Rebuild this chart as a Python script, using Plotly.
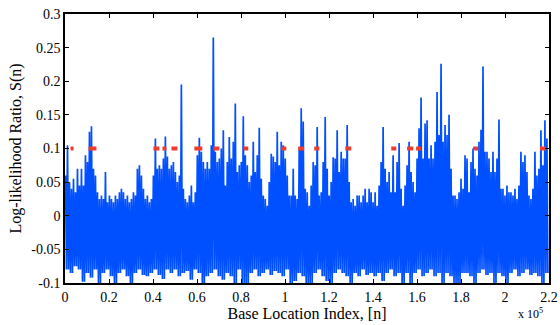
import plotly.graph_objects as go

# Upper envelope of S(n), one value per ~908 bases
upper = [
    0.06, 0.105, 0.05, 0.04, 0.055, 0.035, 0.07, 0.045, 0.07, 0.045,
    0.09, 0.08, 0.125, 0.133, 0.07, 0.06, 0.035, 0.025, 0.03, 0.025,
    0.065, 0.02, 0.03, 0.025, 0.02, 0.03, 0.025, 0.035, 0.04, 0.035,
    0.025, 0.03, 0.02, 0.025, 0.035, 0.03, 0.07, 0.075, 0.06, 0.04,
    0.025, 0.03, 0.02, 0.025, 0.06, 0.115, 0.07, 0.075, 0.07, 0.085,
    0.118, 0.088, 0.07, 0.075, 0.08, 0.065, 0.05, 0.06, 0.195, 0.04,
    0.025, 0.02, 0.03, 0.045, 0.02, 0.035, 0.09, 0.116, 0.095, 0.08,
    0.07, 0.08, 0.07, 0.105, 0.265, 0.095, 0.08, 0.085, 0.1, 0.127,
    0.045, 0.08, 0.117, 0.085, 0.11, 0.167, 0.065, 0.075, 0.08, 0.148,
    0.09, 0.075, 0.05, 0.06, 0.11, 0.065, 0.09, 0.131, 0.055, 0.03,
    0.025, 0.015, 0.05, 0.092, 0.088, 0.08, 0.125, 0.075, 0.11, 0.105,
    0.085, 0.06, 0.03, 0.03, 0.07, 0.03, 0.025, 0.1, 0.16, 0.14,
    0.04, 0.035, 0.015, 0.045, 0.08, 0.075, 0.132, 0.03, 0.035, 0.08,
    0.147, 0.07, 0.03, 0.05, 0.087, 0.085, 0.127, 0.065, 0.095, 0.085,
    0.085, 0.135, 0.05, 0.02, 0.025, 0.015, 0.03, 0.03, 0.02, 0.03,
    0.04, 0.02, 0.04, 0.035, 0.02, 0.035, 0.015, 0.045, 0.08, 0.132,
    0.07, 0.05, 0.065, 0.035, 0.09, 0.035, 0.08, 0.108, 0.04, 0.015,
    0.045, 0.075, 0.11, 0.065, 0.05, 0.035, 0.085, 0.13, 0.176, 0.085,
    0.137, 0.142, 0.085, 0.105, 0.085, 0.11, 0.184, 0.12, 0.226, 0.11,
    0.135, 0.12, 0.15, 0.07, 0.03, 0.03, 0.025, 0.035, 0.055, 0.04,
    0.09, 0.085, 0.035, 0.08, 0.1, 0.07, 0.06, 0.11, 0.128, 0.222,
    0.095, 0.095, 0.085, 0.065, 0.095, 0.065, 0.085, 0.143, 0.04, 0.04,
    0.03, 0.045, 0.035, 0.035, 0.03, 0.04, 0.025, 0.045, 0.095, 0.08,
    0.09, 0.065, 0.03, 0.025, 0.04, 0.095, 0.06, 0.07, 0.127, 0.075,
    0.142, 0.115,
]

# Lower envelope of S(n), one value per ~1816 bases
lower = [
    -0.08, -0.085, -0.075, -0.08, -0.098, -0.085, -0.092, -0.08, -0.1, -0.085,
    -0.08, -0.09, -0.1, -0.085, -0.08, -0.09, -0.1, -0.085, -0.08, -0.088,
    -0.09, -0.085, -0.08, -0.088, -0.094, -0.08, -0.085, -0.08, -0.09, -0.085,
    -0.082, -0.095, -0.08, -0.085, -0.105, -0.09, -0.085, -0.08, -0.09, -0.095,
    -0.085, -0.09, -0.1, -0.08, -0.1, -0.1, -0.085, -0.08, -0.09, -0.085,
    -0.08, -0.088, -0.082, -0.085, -0.09, -0.08, -0.1, -0.097, -0.085, -0.09,
    -0.1, -0.1, -0.085, -0.08, -0.09, -0.097, -0.1, -0.085, -0.08, -0.085,
    -0.09, -0.1, -0.085, -0.09, -0.08, -0.088, -0.085, -0.09, -0.085, -0.097,
    -0.085, -0.08, -0.09, -0.085, -0.1, -0.085, -0.1, -0.085, -0.08, -0.09,
    -0.085, -0.08, -0.09, -0.085, -0.1, -0.085, -0.09, -0.1, -0.1, -0.085,
    -0.085, -0.09, -0.1, -0.085, -0.08, -0.088, -0.085, -0.1, -0.085, -0.09,
    -0.1, -0.085, -0.08, -0.09, -0.085, -0.08, -0.088, -0.085, -0.09, -0.1,
    -0.085,
]

sample_start = 227
sample_step = 908

# Detected regions (threshold 0.1)
region_start = [2500, 10700, 40200, 44300, 48400, 58800, 67400, 81100, 98300,
                106000, 113300, 127400, 148300, 155500, 159600, 185500, 215900]
region_end = [3900, 14300, 42900, 46100, 51100, 62400, 70200, 83300, 100600,
              108700, 115600, 130100, 150600, 158300, 161900, 187800, 218600]
threshold = 0.1

x_ticks = [0, 20000, 40000, 60000, 80000, 100000, 120000, 140000, 160000,
           180000, 200000, 220000]
x_labels = ["0", "0.2", "0.4", "0.6", "0.8", "1", "1.2", "1.4", "1.6", "1.8", "2", "2.2"]
y_ticks = [-0.1, -0.05, 0, 0.05, 0.1, 0.15, 0.2, 0.25, 0.3]
y_labels = ["-0.1", "-0.05", "0", "0.05", "0.1", "0.15", "0.2", "0.25", "0.3"]

xs, ys = [], []
for i, h in enumerate(upper):
    xs.append(sample_start + i * sample_step)
    ys.append(h)
    xs.append(sample_start + i * sample_step + sample_step / 2)
    ys.append(lower[i // 2])

mx, my = [], []
for s, e in zip(region_start, region_end):
    mx += [s, e, None]
    my += [threshold, threshold, None]

fig = go.Figure()
fig.add_trace(go.Scatter(x=xs, y=ys, mode="lines",
                         line=dict(color="#0050ff", width=1.7), hoverinfo="skip"))
fig.add_trace(go.Scatter(x=mx, y=my, mode="lines",
                         line=dict(color="#f03a2a", width=4), hoverinfo="skip"))

font = dict(family="Liberation Serif, Times New Roman, serif", color="black")
axis_common = dict(showgrid=False, zeroline=False, showline=True, linecolor="black",
                   linewidth=1.5, mirror="ticks", ticks="inside", ticklen=4,
                   tickcolor="black", automargin=False,
                   tickfont=dict(size=14, **font))

fig.update_layout(
    width=560, height=325,
    margin=dict(l=65, r=11, t=14, b=42),
    paper_bgcolor="white", plot_bgcolor="white",
    showlegend=False,
    xaxis=dict(range=[0, 220000], tickvals=x_ticks, ticktext=x_labels,
               title=dict(text="Base Location Index, [n]", font=dict(size=16, **font), standoff=2),
               **axis_common),
    yaxis=dict(range=[-0.1, 0.3], tickvals=y_ticks, ticktext=y_labels,
               title=dict(text="Log-likelihood Ratio, S(n)", font=dict(size=16, **font), standoff=6),
               **axis_common),
    annotations=[dict(text="x 10<sup>5</sup>", x=1.0, y=0, xref="paper", yref="paper",
                      xanchor="right", yanchor="top", yshift=-21, xshift=-4, showarrow=False,
                      font=dict(size=12, **font))],
)

fig.write_html("out.html")
